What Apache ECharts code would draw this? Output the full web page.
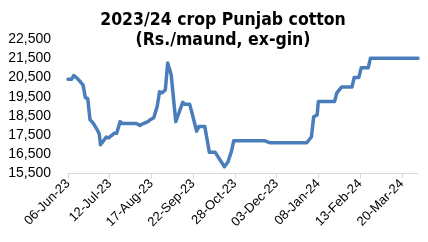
<!DOCTYPE html>
<html>
<head>
<meta charset="utf-8">
<script src="https://cdn.jsdelivr.net/npm/echarts@6/dist/echarts.min.js"></script>
<style>
html,body{margin:0;padding:0;background:#fff;}
#chart{width:428px;height:242px;}
</style>
</head>
<body>
<div id="chart"></div>
<script>
var titleLines = ['2023/24 crop Punjab cotton', '(Rs./maund, ex-gin)'];
var startDate = '2023-06-06';
var endDate = '2024-04-03';
var tickStepDays = 36;
var yTicks = [15500, 16500, 17500, 18500, 19500, 20500, 21500, 22500];
var dates = [
  '2023-06-06','2023-06-09','2023-06-11','2023-06-14','2023-06-17','2023-06-19','2023-06-21','2023-06-23',
  '2023-06-25','2023-06-28','2023-07-01','2023-07-03','2023-07-04','2023-07-06','2023-07-09','2023-07-11',
  '2023-07-14','2023-07-16','2023-07-18','2023-07-21','2023-07-23','2023-07-27','2023-08-04','2023-08-07',
  '2023-08-10','2023-08-14','2023-08-16','2023-08-19','2023-08-22','2023-08-24','2023-08-26','2023-08-29',
  '2023-08-31','2023-09-03','2023-09-07','2023-09-10','2023-09-13','2023-09-15','2023-09-19','2023-09-21',
  '2023-09-25','2023-09-27','2023-10-02','2023-10-06','2023-10-11','2023-10-19','2023-10-22','2023-10-25',
  '2023-10-27','2023-11-23','2023-11-27','2023-12-29','2024-01-02','2024-01-04','2024-01-07','2024-01-08',
  '2024-01-22','2024-01-24','2024-01-28','2024-02-06','2024-02-08','2024-02-12','2024-02-14','2024-02-20',
  '2024-02-22','2024-04-03'
];
var prices = [
  20400,20400,20600,20450,20250,20100,19450,19400,
  18300,18100,17800,17550,17000,17150,17400,17350,
  17500,17600,17600,18200,18100,18100,18100,18000,
  18100,18200,18300,18400,19000,19750,19700,19850,
  21250,20650,18200,18700,19200,19100,19100,18650,
  17700,17950,17950,16600,16600,15850,16100,16650,
  17200,17200,17100,17100,17400,18450,18550,19250,
  19250,19700,20000,20000,20500,20500,21000,21000,
  21500,21500
];

var DAY = 86400000;
function utc(s){ var p = s.split('-'); return Date.UTC(+p[0], +p[1]-1, +p[2]); }
function toDay(s){ return Math.round((utc(s) - utc(startDate)) / DAY); }
var MONTHS = ['Jan','Feb','Mar','Apr','May','Jun','Jul','Aug','Sep','Oct','Nov','Dec'];
function dayLabel(d){
  var dt = new Date(utc(startDate) + d * DAY);
  var dd = ('0' + dt.getUTCDate()).slice(-2);
  var yy = ('' + dt.getUTCFullYear()).slice(-2);
  return dd + '-' + MONTHS[dt.getUTCMonth()] + '-' + yy;
}
var maxDay = toDay(endDate);
var tickDays = [];
for (var t = 0; t <= maxDay; t += tickStepDays) tickDays.push(t);
var seriesData = dates.map(function(d, i){ return [toDay(d), prices[i]]; });

var chart = echarts.init(document.getElementById('chart'), null, {renderer: 'canvas'});
chart.setOption({
  animation: false,
  backgroundColor: '#ffffff',
  title: {
    text: titleLines.join('\n'),
    left: 218, top: 6, textAlign: 'center',
    textStyle: {fontFamily: '"DejaVu Sans Condensed", "DejaVu Sans"', fontWeight: 'bold', fontSize: 17.5, color: '#000', lineHeight: 19.5}
  },
  grid: {left: 68, right: 10, top: 39, bottom: 68.5, containLabel: false},
  xAxis: {
    type: 'value', min: 0, max: maxDay, interval: tickStepDays,
    splitLine: {show: false},
    axisLine: {show: true, lineStyle: {color: '#d9d9d9', width: 1}},
    axisTick: {show: true, customValues: tickDays, length: 5, lineStyle: {color: '#d9d9d9'}},
    axisLabel: {
      customValues: tickDays, rotate: 45, margin: 8,
      fontFamily: 'Liberation Sans', fontSize: 13, color: '#000',
      formatter: function(v){ return dayLabel(v); }
    }
  },
  yAxis: {
    type: 'value', min: yTicks[0], max: yTicks[yTicks.length-1], interval: 1000,
    splitLine: {show: false},
    axisLine: {show: false}, axisTick: {show: false},
    axisLabel: {
      margin: 17, fontFamily: 'Liberation Sans', fontSize: 14, color: '#000',
      formatter: function(v){ return v.toLocaleString('en-US'); }
    }
  },
  series: [{
    type: 'line', data: seriesData, showSymbol: false, symbol: 'none',
    lineStyle: {color: '#4A7EBB', width: 3.5, join: 'round', cap: 'round'}
  }]
});
</script>
</body>
</html>
